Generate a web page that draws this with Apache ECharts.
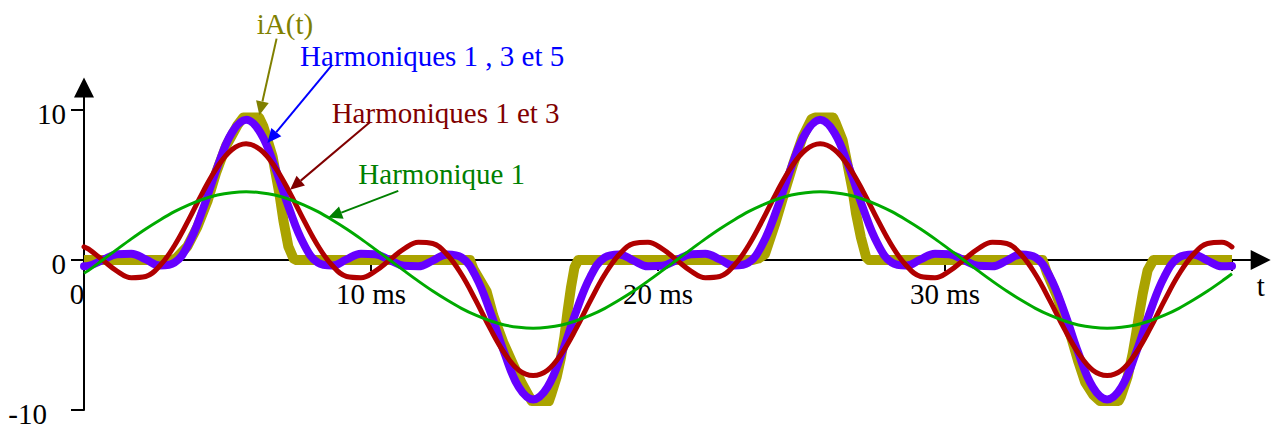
<!DOCTYPE html>
<html><head><meta charset="utf-8">
<script src="https://cdn.jsdelivr.net/npm/echarts@6/dist/echarts.min.js"></script>
<style>html,body{margin:0;padding:0;background:#fff}#c{width:1273px;height:429px}</style>
</head><body><div id="c"></div>
<script>
// ---- data ----
const tHarm = [0, 0.15,0.65,1.15,1.65,2.15,2.65,3.15,3.65,4.15,4.65,5.15,5.65,6.15,6.65,7.15,7.65,8.15,8.65,9.15,9.65,
  10.15,10.65,11.15,11.65,12.15,12.65,13.15,13.65,14.15,14.65,15.15,15.65,16.15,16.65,17.15,17.65,18.15,18.65,19.15,19.65,
  20.15,20.65,21.15,21.65,22.15,22.65,23.15,23.65,24.15,24.65,25.15,25.65,26.15,26.65,27.15,27.65,28.15,28.65,29.15,29.65,
  30.15,30.65,31.15,31.65,32.15,32.65,33.15,33.65,34.15,34.65,35.15,35.65,36.15,36.65,37.15,37.65,38.15,38.65,39.15,39.65, 40];

const harm1 = [-0.88, -0.71,0,0.71,1.41,2.07,2.67,3.22,3.68,4.05,4.33,4.49,
  4.55,4.49,4.33,4.05,3.68,3.22,2.67,2.07,1.41,0.71,0,-0.71,-1.41,-2.07,-2.67,-3.22,-3.68,-4.05,-4.33,-4.49,-4.55,
  -4.49,-4.33,-4.05,-3.68,-3.22,-2.67,-2.07,-1.41,-0.71,0,0.71,1.41,2.07,2.67,3.22,3.68,4.05,4.33,4.49,4.55,
  4.49,4.33,4.05,3.68,3.22,2.67,2.07,1.41,0.71,0,-0.71,-1.41,-2.07,-2.67,-3.22,-3.68,-4.05,-4.33,-4.49,-4.55,
  -4.49,-4.33,-4.05,-3.68,-3.22,-2.67,-2.07,-1.41, -0.92];

const harm13 = [0.88, 0.74,0,-0.74,-1.18,-1.10,-0.37,0.95,2.69,4.56,6.21,7.35,
  7.75,7.35,6.21,4.56,2.69,0.95,-0.37,-1.10,-1.18,-0.74,0,0.74,1.18,1.10,0.37,-0.95,-2.69,-4.56,-6.21,-7.35,-7.70,
  -7.35,-6.21,-4.56,-2.69,-0.95,0.37,1.10,1.18,0.74,0,-0.74,-1.18,-1.10,-0.37,0.95,2.69,4.56,6.21,7.35,7.75,
  7.35,6.21,4.56,2.69,0.95,-0.37,-1.10,-1.18,-0.74,0,0.74,1.18,1.10,0.37,-0.95,-2.69,-4.56,-6.21,-7.35,-7.70,
  -7.35,-6.21,-4.56,-2.69,-0.95,0.37,1.10,1.18, 0.87];

const harm135 = [-0.41, -0.39,0,0.39,0.42,0.04,-0.37,-0.18,1.09,3.42,6.21,8.48,
  9.35,8.48,6.21,3.42,1.09,-0.18,-0.37,0.04,0.42,0.39,0,-0.39,-0.42,-0.04,0.37,0.18,-1.09,-3.42,-6.21,-8.48,-9.30,
  -8.48,-6.21,-3.42,-1.09,0.18,0.37,-0.04,-0.42,-0.39,0,0.39,0.42,0.04,-0.37,-0.18,1.09,3.42,6.21,8.48,9.35,
  8.48,6.21,3.42,1.09,-0.18,-0.37,0.04,0.42,0.39,0,-0.39,-0.42,-0.04,0.37,0.18,-1.09,-3.42,-6.21,-8.48,-9.30,
  -8.48,-6.21,-3.42,-1.09,0.18,0.37,-0.04,-0.42, -0.40];

const tA = [0,3.1,3.25,3.6,3.95,4.3,4.6,4.95,5.35,5.55,6.1,6.25,6.57,6.81,6.95,7.12,7.3,7.4,
  13.45,13.57,14.03,14.26,14.61,14.96,15.25,15.48,15.6,16.2,16.29,16.47,16.62,16.74,16.85,16.97,17.09,17.22,
  23.3,23.5,23.73,24.08,24.43,24.71,25.04,25.35,25.47,26.1,26.2,26.43,26.6,26.78,26.9,27.07,27.25,27.35,
  33.4,33.54,33.89,34.18,34.41,34.65,34.88,35.17,35.4,36.05,36.13,36.36,36.54,36.66,36.77,36.89,37.06,37.26, 40];
const iA = [0,0,0.2,0.9,2.2,3.9,5.8,7.6,9.0,9.5,9.5,8.9,6.9,4.4,2.6,0.9,0.1,0,
  0,-0.6,-2.1,-3.7,-5.5,-7.0,-8.2,-9.0,-9.4,-9.4,-8.9,-7.8,-6.5,-5.1,-3.4,-1.8,-0.5,0,
  0,0.1,0.4,2.4,4.65,6.4,8.2,9.4,9.5,9.5,9.1,8.0,6.4,4.65,3.1,1.5,0.2,0,
  0,-0.8,-2.35,-3.9,-5.24,-6.8,-8.13,-9.0,-9.4,-9.4,-9.1,-7.8,-6.24,-4.9,-3.57,-2.24,-0.69,0, 0];

const xTickValues = [0, 10, 20, 30, 40];
const xLabelValues = [0, 10, 20, 30];
const yTickValues = [-10, 0, 10];
const seriesNames = ['iA(t)', 'Harmoniques 1 , 3 et 5', 'Harmoniques 1 et 3', 'Harmonique 1'];
const axisName = 't';

// ---- chart ----
const FONT = '"Liberation Serif", "Times New Roman", serif';
const chart = echarts.init(document.getElementById('c'), null, {renderer: 'svg'});
const zip = (xs, ys) => xs.map((x, i) => [x, ys[i]]);
const txt = {fontFamily: FONT, fontSize: 29, color: '#000'};

chart.setOption({
  animation: false,
  grid: {left: 84, right: 12.3, top: 87.5, bottom: 19, containLabel: false, outerBoundsMode: 'none'},
  xAxis: {
    type: 'value', min: 0, max: 41, position: 'bottom', offset: 0,
    axisLine: {show: true, onZero: false, symbol: ['none', 'triangle'], symbolSize: [20, 20], lineStyle: {color: '#000', width: 2}},
    axisTick: {show: true, length: 11, customValues: xTickValues, lineStyle: {color: '#000', width: 2}},
    axisLabel: {customValues: xLabelValues, margin: 19, ...txt,
      formatter: v => v === 0 ? '{z|0}' : '{n|' + v + ' ms}',
      rich: {z: {...txt, padding: [0, 14, 0, 0]}, n: {...txt}}},
    splitLine: {show: false}
  },
  yAxis: {
    type: 'value', min: -10, max: 11.5,
    axisLine: {show: true, symbol: ['none', 'triangle'], symbolSize: [20, 20], lineStyle: {color: '#000', width: 2}},
    axisTick: {show: true, length: 13, customValues: yTickValues, lineStyle: {color: '#000', width: 2}},
    axisLabel: {customValues: yTickValues, margin: 18, ...txt,
      formatter: v => v === -10 ? '{m|-10}' : '{n|' + v + '}',
      rich: {m: {...txt, padding: [7, 19, 0, 0]}, n: {...txt, padding: [7, 0, 0, 0]}}},
    splitLine: {show: false}
  },
  series: [
    {type: 'line', name: seriesNames[0], data: zip(tA, iA), showSymbol: false, symbol: 'none', silent: true, z: 2,
      lineStyle: {color: '#aaa300', width: 10, join: 'round'}},
    {type: 'line', name: seriesNames[1], data: zip(tHarm, harm135), showSymbol: false, symbol: 'none', silent: true, z: 3, smooth: 0.4,
      lineStyle: {color: '#6600ff', width: 8, join: 'round', cap: 'round'}},
    {type: 'line', name: seriesNames[2], data: zip(tHarm, harm13), showSymbol: false, symbol: 'none', silent: true, z: 4, smooth: 0.4,
      lineStyle: {color: '#b00000', width: 5, join: 'round', cap: 'round'}},
    {type: 'line', name: seriesNames[3], data: zip(tHarm, harm1), showSymbol: false, symbol: 'none', silent: true, z: 5, smooth: 0.3,
      lineStyle: {color: '#00aa00', width: 3, join: 'round'}}
  ]
});

// move the time axis (line, ticks and labels) up onto the zero level of the value axis
const px = p => chart.convertToPixel({gridIndex: 0}, p);
const zeroY = px([0, 0])[1];
const bottomY = px([0, -10])[1];
chart.setOption({xAxis: {offset: zeroY - bottomY}});

// ---- annotations (anchored in data units) ----
const notes = [
  {text: seriesNames[0], color: '#808000', at: [6.02, 15.71], from: [6.71, 14.76], to: [6.11, 9.65]},
  {text: seriesNames[1], color: '#0000ff', at: [7.53, 13.58], from: [8.63, 12.98], to: [6.39, 7.8]},
  {text: seriesNames[2], color: '#800000', at: [8.63, 9.81], from: [9.97, 9.2], to: [7.18, 4.69]},
  {text: seriesNames[3], color: '#008000', at: [9.56, 5.71], from: [10.95, 4.61], to: [8.51, 2.83]}
];
const graphics = [];
notes.forEach(n => {
  const a = px(n.at), s = px(n.from), t = px(n.to);
  graphics.push({type: 'text', x: a[0], y: a[1], silent: true, z: 10,
    style: {text: n.text, fill: n.color, fontFamily: FONT, fontSize: 29, align: 'left', verticalAlign: 'middle', textAlign: 'left', textVerticalAlign: 'middle'}});
  const dx = t[0] - s[0], dy = t[1] - s[1], len = Math.hypot(dx, dy);
  const ux = dx / len, uy = dy / len, L = 14, W = 6.5;
  const bx = t[0] - ux * L, by = t[1] - uy * L;
  graphics.push({type: 'line', silent: true, z: 10, shape: {x1: s[0], y1: s[1], x2: bx, y2: by}, style: {stroke: n.color, lineWidth: 2}});
  graphics.push({type: 'polygon', silent: true, z: 10,
    shape: {points: [[t[0], t[1]], [bx - uy * W, by + ux * W], [bx + uy * W, by - ux * W]]}, style: {fill: n.color}});
});
const tp = px([41.0, -1.73]);
graphics.push({type: 'text', x: tp[0], y: tp[1], silent: true,
  style: {text: axisName, fill: '#000', fontFamily: FONT, fontSize: 29, align: 'center', verticalAlign: 'middle', textAlign: 'center', textVerticalAlign: 'middle'}});
chart.setOption({graphic: graphics});
</script>
</body></html>
